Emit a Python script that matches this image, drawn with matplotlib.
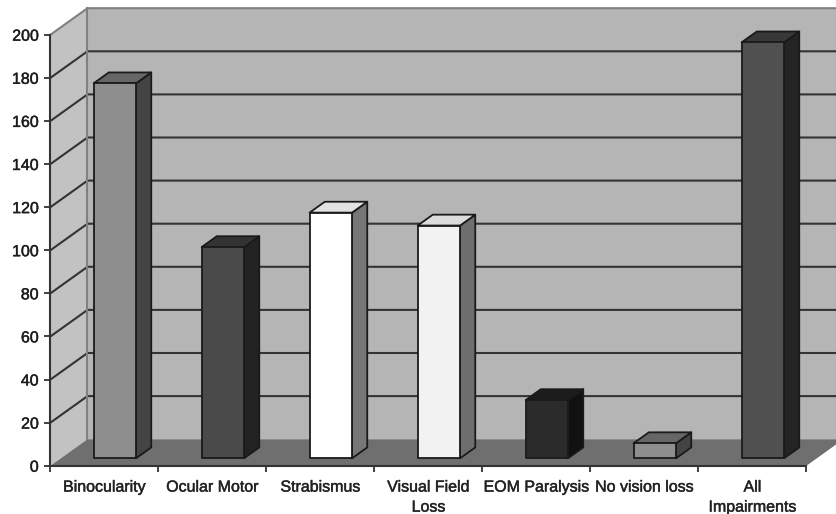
import numpy as np
import matplotlib.pyplot as plt
import matplotlib.patheffects as pe
from matplotlib.patches import Polygon

plt.rcParams['font.family'] = ['Liberation Sans', 'DejaVu Sans']

categories = ["Binocularity", "Ocular Motor", "Strabismus", "Visual Field\nLoss",
              "EOM Paralysis", "No vision loss", "All\nImpairments"]
values = [174, 98, 114, 108, 27, 7, 193]
front_colors = ["#8e8e8e", "#4a4a4a", "#ffffff", "#f2f2f2", "#2b2b2b", "#8e8e8e", "#505050"]
side_colors = ["#444444", "#222222", "#777777", "#6e6e6e", "#111111", "#444444", "#242424"]
top_colors = ["#666666", "#333333", "#e2e2e2", "#dcdcdc", "#1c1c1c", "#666666", "#383838"]
y_ticks = [0, 20, 40, 60, 80, 100, 120, 140, 160, 180, 200]

W = 837
H = 514
# front plane of the 3d box, in pixels
left = 50.5
right = 806.5
bottom = 465.7
top = 34.7

fig = plt.figure(figsize=(W / 100, H / 100), dpi=100)
ax = fig.add_axes([left / W, 1 - bottom / H, (right - left) / W, (bottom - top) / H])
ax.set_xlim(0, 7)
ax.set_ylim(0, 200)

# depth of the box in data units
dx = 37 / 108
dy = 26.5 * 200 / (bottom - top)

# bar placement, fractions of box depth / category width
d0 = 0.28
d1 = 0.69
bar_w = 0.393


def poly(pts, color, edge="none", lw=0, z=1):
    p = Polygon(pts, closed=True, facecolor=color, edgecolor=edge, linewidth=lw, zorder=z,
                joinstyle="round", clip_on=False)
    ax.add_patch(p)


# walls and floor
poly([(7 + dx, dy), (dx, dy), (dx, 200 + dy), (7 + dx, 200 + dy)], "#b5b5b5", z=1)
poly([(0, 0), (dx, dy), (dx, 200 + dy), (0, 200)], "#c2c2c2", z=1)
poly([(0, 0), (7, 0), (7 + dx, dy), (dx, dy)], "#6f6f6f", z=2)

# grid lines
for v in y_ticks[1:]:
    c = "#808080" if v == 200 else "#333333"
    ax.plot([0, dx, 7 + dx], [v, v + dy, v + dy], color=c, lw=1.5, zorder=3, clip_on=False,
            solid_joinstyle="miter")
ax.plot([dx, dx], [dy, 200 + dy], color="#808080", lw=1.5, zorder=3, clip_on=False)

# bars
for i, v in enumerate(values):
    a = i + 0.5 - bar_w / 2 + d0 * dx
    b = a + bar_w
    sx = (d1 - d0) * dx
    sy = (d1 - d0) * dy
    y0 = d0 * dy
    y1 = y0 + v
    poly([(b, y0), (b + sx, y0 + sy), (b + sx, y1 + sy), (b, y1)], side_colors[i], "#1a1a1a", 1.3, 4)
    poly([(a, y1), (b, y1), (b + sx, y1 + sy), (a + sx, y1 + sy)], top_colors[i], "#1a1a1a", 1.3, 4)
    poly([(a, y0), (b, y0), (b, y1), (a, y1)], front_colors[i], "#1a1a1a", 1.3, 5)

for s in ["top", "right"]:
    ax.spines[s].set_visible(False)
for s in ["left", "bottom"]:
    ax.spines[s].set_color("#333333")
    ax.spines[s].set_linewidth(1.5)
    ax.spines[s].set_zorder(6)

ax.set_yticks(y_ticks)
ax.tick_params(axis="y", length=4.5, width=1.3, color="#333333", labelsize=11.5, labelcolor="#1c1c1c", pad=4)
ax.set_xticks(np.arange(8))
ax.set_xticklabels([])
ax.tick_params(axis="x", which="major", length=4, width=1.3, color="#333333")
ax.set_xticks(np.arange(7) + 0.5, minor=True)
ax.set_xticklabels(categories, minor=True, fontsize=11.5, color="#222222", linespacing=1.42)
ax.tick_params(axis="x", which="minor", length=0, pad=10)
ax.patch.set_visible(False)

# the scan has slightly heavy text
for t in ax.get_yticklabels() + ax.get_xticklabels(minor=True):
    t.set_path_effects([pe.withStroke(linewidth=0.35, foreground="#333333")])

fig.savefig("out.png", dpi=100)
